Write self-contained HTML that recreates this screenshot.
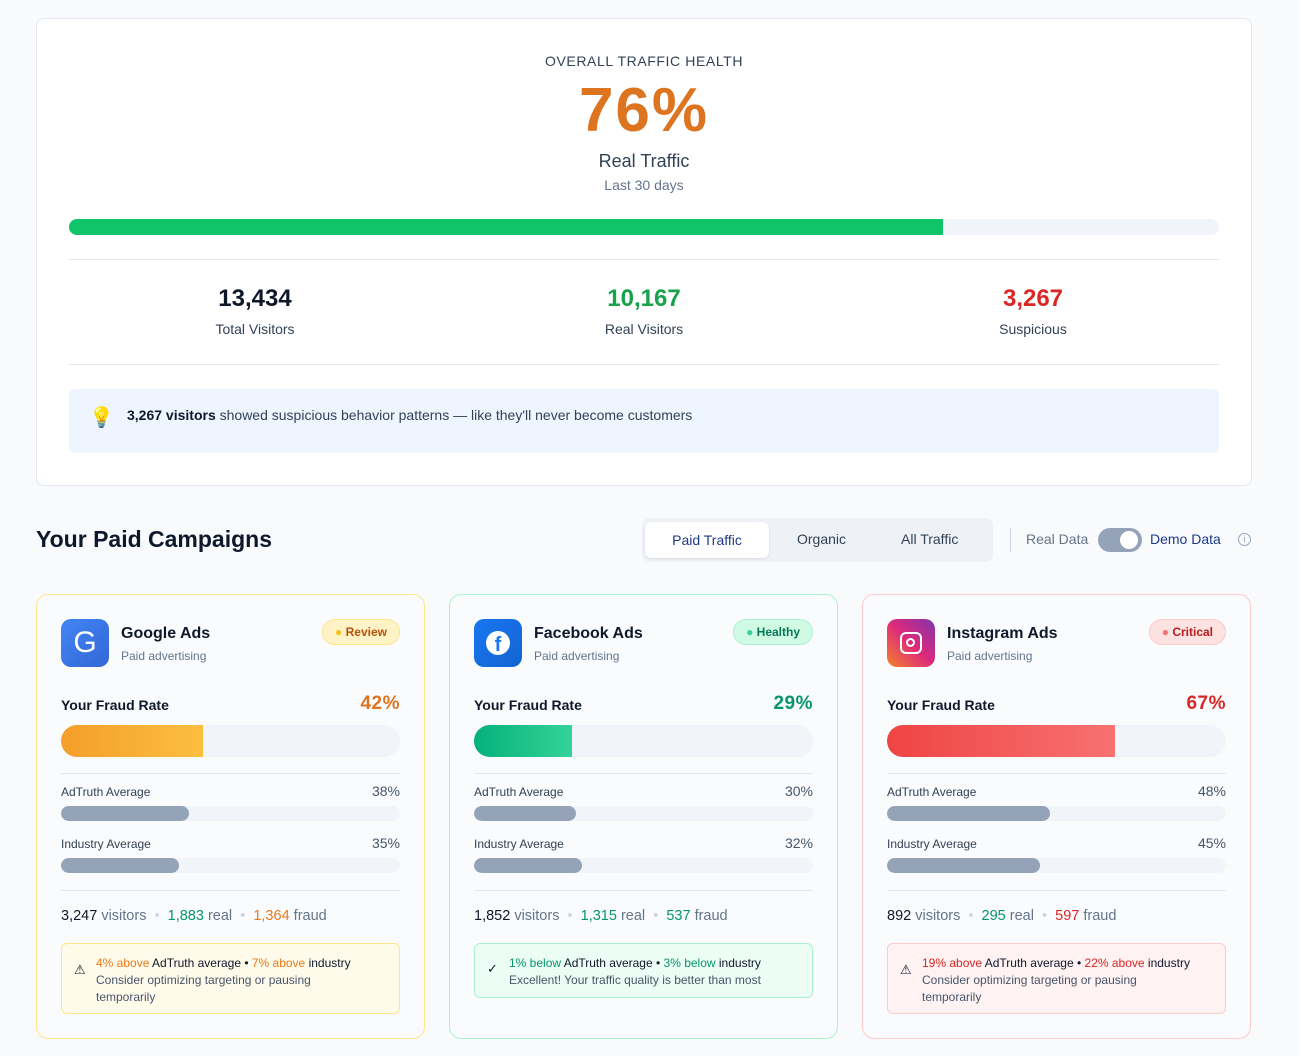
<!DOCTYPE html>
<html><head><meta charset="utf-8"><style>
*{box-sizing:border-box;margin:0;padding:0}
body{width:1299px;height:1056px;background:#f8fafc;font-family:"Liberation Sans","DejaVu Sans",sans-serif;color:#0f172a;position:relative;overflow:hidden}
.a{position:absolute}
.top{left:36px;top:18px;width:1216px;height:468px;background:#fff;border:1px solid #e2e8f0;border-radius:8px}
.c{text-align:center}
.card{width:389px;height:445px;top:594px;border-radius:12px;background:#fafbfd}
.bar{height:32px;border-radius:16px;background:#f1f5f9;overflow:hidden}
.sbar{height:15px;border-radius:8px;background:#f1f5f9;overflow:hidden}
.sbar div{height:100%;background:#94a3b8;border-radius:8px}
</style></head><body>
<div class="a top">
<div class="a c" style="left:0;width:1214px;top:34px;font-size:14px;letter-spacing:0.6px;color:#334155">OVERALL TRAFFIC HEALTH</div>
<div class="a c" style="left:0;width:1214px;top:56px;font-size:62px;font-weight:bold;color:#dd7420;line-height:72px;letter-spacing:2px">76%</div>
<div class="a c" style="left:0;width:1214px;top:132px;font-size:18px;color:#334155">Real Traffic</div>
<div class="a c" style="left:0;width:1214px;top:158px;font-size:14px;color:#64748b">Last 30 days</div>
<div class="a" style="left:32px;top:200px;width:1150px;height:16px;border-radius:8px;background:#f1f5f9;overflow:hidden"><div style="width:874px;height:100%;background:#10c46a"></div></div>
<div class="a" style="left:32px;top:240px;width:1150px;border-top:1px solid #e2e8f0"></div>
<div class="a" style="left:32px;top:345px;width:1150px;border-top:1px solid #e2e8f0"></div>
<div class="a c" style="left:118px;width:200px;top:266px;font-size:24px;font-weight:bold">13,434</div>
<div class="a c" style="left:118px;width:200px;top:302px;font-size:14px;color:#334155">Total Visitors</div>
<div class="a c" style="left:507px;width:200px;top:266px;font-size:24px;font-weight:bold;color:#16a34a">10,167</div>
<div class="a c" style="left:507px;width:200px;top:302px;font-size:14px;color:#334155">Real Visitors</div>
<div class="a c" style="left:896px;width:200px;top:266px;font-size:24px;font-weight:bold;color:#dc2626">3,267</div>
<div class="a c" style="left:896px;width:200px;top:302px;font-size:14px;color:#334155">Suspicious</div>
<div class="a" style="left:32px;top:370px;width:1150px;height:64px;border-radius:6px;background:#eff5fe"></div>
<div class="a" style="left:52px;top:386px;font-size:20px">💡</div>
<div class="a" style="left:90px;top:388px;font-size:14px;color:#334155"><b style="color:#0f172a">3,267 visitors</b> showed suspicious behavior patterns — like they'll never become customers</div>
</div>

<div class="a" style="left:36px;top:526px;font-size:23px;font-weight:bold">Your Paid Campaigns</div>
<div class="a" style="left:642px;top:518px;width:351px;height:44px;background:#eef2f7;border-radius:8px"></div>
<div class="a c" style="left:645px;top:522px;width:124px;height:36px;background:#fff;border-radius:6px;box-shadow:0 1px 2px rgba(0,0,0,.1);font-size:14px;line-height:36px;color:#1e3a8a">Paid Traffic</div>
<div class="a" style="left:797px;top:531px;font-size:14px;color:#334155">Organic</div>
<div class="a" style="left:901px;top:531px;font-size:14px;color:#334155">All Traffic</div>
<div class="a" style="left:1010px;top:528px;height:24px;border-left:1px solid #cbd5e1"></div>
<div class="a" style="left:1026px;top:531px;font-size:14px;color:#64748b">Real Data</div>
<div class="a" style="left:1098px;top:528px;width:44px;height:24px;border-radius:12px;background:#94a3b8"><div class="a" style="left:22px;top:3px;width:18px;height:18px;border-radius:9px;background:#fff"></div></div>
<div class="a" style="left:1150px;top:531px;font-size:14px;color:#1e3a8a">Demo Data</div>
<div class="a c" style="left:1238px;top:533px;width:13px;height:13px;border:1px solid #94a3b8;border-radius:7px;font-size:9px;line-height:11px;color:#94a3b8">i</div>

<div class="a card" style="left:36px;border:1px solid #fde68a">
 <div class="a" style="left:24px;top:24px;width:48px;height:48px;border-radius:10px;background:linear-gradient(135deg,#4285f4,#3367d6);color:#fff;font-size:30px;text-align:center;line-height:48px">G</div>
 <div class="a" style="left:84px;top:30px;font-size:16px;font-weight:bold">Google Ads</div>
 <div class="a" style="left:84px;top:54px;font-size:12px;color:#64748b">Paid advertising</div>
 <div class="a" style="right:24px;top:24px;height:26px;padding:0 12px;border-radius:13px;background:#fef3c7;border:1px solid #fde68a;color:#b45309;font-size:12px;font-weight:bold;line-height:24px"><span style="color:#fbbf24">●</span> Review</div>
 <div class="a" style="left:24px;top:102px;font-size:14px;font-weight:bold">Your Fraud Rate</div>
 <div class="a" style="right:24px;top:98px;font-size:19px;font-weight:bold;color:#dd7420;letter-spacing:0.5px">42%</div>
 <div class="a bar" style="left:24px;top:130px;width:339px"><div style="width:142px;height:100%;background:linear-gradient(90deg,#f59e2b,#fbbf3f)"></div></div>
 <div class="a" style="left:24px;top:178px;width:339px;border-top:1px solid #e2e8f0"></div>
 <div class="a" style="left:24px;top:190px;font-size:12px;color:#334155">AdTruth Average</div>
 <div class="a" style="right:24px;top:188px;font-size:14px;color:#475569">38%</div>
 <div class="a sbar" style="left:24px;top:211px;width:339px"><div style="width:128px"></div></div>
 <div class="a" style="left:24px;top:242px;font-size:12px;color:#334155">Industry Average</div>
 <div class="a" style="right:24px;top:240px;font-size:14px;color:#475569">35%</div>
 <div class="a sbar" style="left:24px;top:263px;width:339px"><div style="width:118px"></div></div>
 <div class="a" style="left:24px;top:295px;width:339px;border-top:1px solid #e2e8f0"></div>
 <div class="a" style="left:24px;top:313px;font-size:14.5px;color:#64748b"><span style="color:#0f172a">3,247</span> visitors &nbsp;<span style="color:#cbd5e1">•</span>&nbsp; <span style="color:#059669">1,883</span> real &nbsp;<span style="color:#cbd5e1">•</span>&nbsp; <span style="color:#ea7a1a">1,364</span> fraud</div>
 <div class="a" style="left:24px;top:348px;width:339px;height:71px;border-radius:6px;background:#fffbeb;border:1px solid #fde68a"></div>
 <div class="a" style="left:37px;top:367px;font-size:13px">⚠</div>
 <div class="a" style="left:59px;top:360px;width:255px;font-size:12px;line-height:17px;color:#475569"><span style="white-space:nowrap"><span style="color:#ea7a1a">4% above</span> <span style="color:#0f172a">AdTruth average • </span><span style="color:#ea7a1a">7% above</span> <span style="color:#0f172a">industry</span></span><br>Consider optimizing targeting or pausing temporarily</div>
</div>

<div class="a card" style="left:449px;border:1px solid #a7f3d0">
 <div class="a" style="left:24px;top:24px;width:48px;height:48px;border-radius:10px;background:linear-gradient(135deg,#1877f2,#1463d0)"><div class="a" style="left:12px;top:12px;width:24px;height:24px;border-radius:12px;background:#fff;color:#1877f2;font-weight:bold;font-size:20px;text-align:center;line-height:28px">f</div></div>
 <div class="a" style="left:84px;top:30px;font-size:16px;font-weight:bold">Facebook Ads</div>
 <div class="a" style="left:84px;top:54px;font-size:12px;color:#64748b">Paid advertising</div>
 <div class="a" style="right:24px;top:24px;height:26px;padding:0 12px;border-radius:13px;background:#d1fae5;border:1px solid #a7f3d0;color:#047857;font-size:12px;font-weight:bold;line-height:24px"><span style="color:#34d399">●</span> Healthy</div>
 <div class="a" style="left:24px;top:102px;font-size:14px;font-weight:bold">Your Fraud Rate</div>
 <div class="a" style="right:24px;top:98px;font-size:19px;font-weight:bold;color:#059669;letter-spacing:0.5px">29%</div>
 <div class="a bar" style="left:24px;top:130px;width:339px"><div style="width:98px;height:100%;background:linear-gradient(90deg,#05b17a,#34d399)"></div></div>
 <div class="a" style="left:24px;top:178px;width:339px;border-top:1px solid #e2e8f0"></div>
 <div class="a" style="left:24px;top:190px;font-size:12px;color:#334155">AdTruth Average</div>
 <div class="a" style="right:24px;top:188px;font-size:14px;color:#475569">30%</div>
 <div class="a sbar" style="left:24px;top:211px;width:339px"><div style="width:102px"></div></div>
 <div class="a" style="left:24px;top:242px;font-size:12px;color:#334155">Industry Average</div>
 <div class="a" style="right:24px;top:240px;font-size:14px;color:#475569">32%</div>
 <div class="a sbar" style="left:24px;top:263px;width:339px"><div style="width:108px"></div></div>
 <div class="a" style="left:24px;top:295px;width:339px;border-top:1px solid #e2e8f0"></div>
 <div class="a" style="left:24px;top:313px;font-size:14.5px;color:#64748b"><span style="color:#0f172a">1,852</span> visitors &nbsp;<span style="color:#cbd5e1">•</span>&nbsp; <span style="color:#059669">1,315</span> real &nbsp;<span style="color:#cbd5e1">•</span>&nbsp; <span style="color:#059669">537</span> fraud</div>
 <div class="a" style="left:24px;top:348px;width:339px;height:55px;border-radius:6px;background:#ecfdf5;border:1px solid #a7f3d0"></div>
 <div class="a" style="left:37px;top:366px;font-size:13px">✓</div>
 <div class="a" style="left:59px;top:360px;width:290px;font-size:12px;line-height:17px;color:#475569"><span style="color:#059669">1% below</span> <span style="color:#0f172a">AdTruth average • </span><span style="color:#059669">3% below</span> <span style="color:#0f172a">industry</span><br>Excellent! Your traffic quality is better than most</div>
</div>

<div class="a card" style="left:862px;border:1px solid #fecaca">
 <div class="a" style="left:24px;top:24px;width:48px;height:48px;border-radius:10px;background:linear-gradient(45deg,#f58529,#dd2a7b,#8134af)"><div class="a" style="left:13px;top:13px;width:22px;height:22px;border:2.5px solid #fff;border-radius:6px"><div class="a" style="left:4px;top:4px;width:9px;height:9px;border:2px solid #fff;border-radius:5px"></div></div></div>
 <div class="a" style="left:84px;top:30px;font-size:16px;font-weight:bold">Instagram Ads</div>
 <div class="a" style="left:84px;top:54px;font-size:12px;color:#64748b">Paid advertising</div>
 <div class="a" style="right:24px;top:24px;height:26px;padding:0 12px;border-radius:13px;background:#fee2e2;border:1px solid #fecaca;color:#b91c1c;font-size:12px;font-weight:bold;line-height:24px"><span style="color:#f87171">●</span> Critical</div>
 <div class="a" style="left:24px;top:102px;font-size:14px;font-weight:bold">Your Fraud Rate</div>
 <div class="a" style="right:24px;top:98px;font-size:19px;font-weight:bold;color:#dc2626;letter-spacing:0.5px">67%</div>
 <div class="a bar" style="left:24px;top:130px;width:339px"><div style="width:228px;height:100%;background:linear-gradient(90deg,#ef4444,#f87171)"></div></div>
 <div class="a" style="left:24px;top:178px;width:339px;border-top:1px solid #e2e8f0"></div>
 <div class="a" style="left:24px;top:190px;font-size:12px;color:#334155">AdTruth Average</div>
 <div class="a" style="right:24px;top:188px;font-size:14px;color:#475569">48%</div>
 <div class="a sbar" style="left:24px;top:211px;width:339px"><div style="width:163px"></div></div>
 <div class="a" style="left:24px;top:242px;font-size:12px;color:#334155">Industry Average</div>
 <div class="a" style="right:24px;top:240px;font-size:14px;color:#475569">45%</div>
 <div class="a sbar" style="left:24px;top:263px;width:339px"><div style="width:153px"></div></div>
 <div class="a" style="left:24px;top:295px;width:339px;border-top:1px solid #e2e8f0"></div>
 <div class="a" style="left:24px;top:313px;font-size:14.5px;color:#64748b"><span style="color:#0f172a">892</span> visitors &nbsp;<span style="color:#cbd5e1">•</span>&nbsp; <span style="color:#059669">295</span> real &nbsp;<span style="color:#cbd5e1">•</span>&nbsp; <span style="color:#dc2626">597</span> fraud</div>
 <div class="a" style="left:24px;top:348px;width:339px;height:71px;border-radius:6px;background:#fef2f2;border:1px solid #fecaca"></div>
 <div class="a" style="left:37px;top:367px;font-size:13px">⚠</div>
 <div class="a" style="left:59px;top:360px;width:255px;font-size:12px;line-height:17px;color:#475569"><span style="white-space:nowrap"><span style="color:#dc2626">19% above</span> <span style="color:#0f172a">AdTruth average • </span><span style="color:#dc2626">22% above</span> <span style="color:#0f172a">industry</span></span><br>Consider optimizing targeting or pausing temporarily</div>
</div>
</body></html>
